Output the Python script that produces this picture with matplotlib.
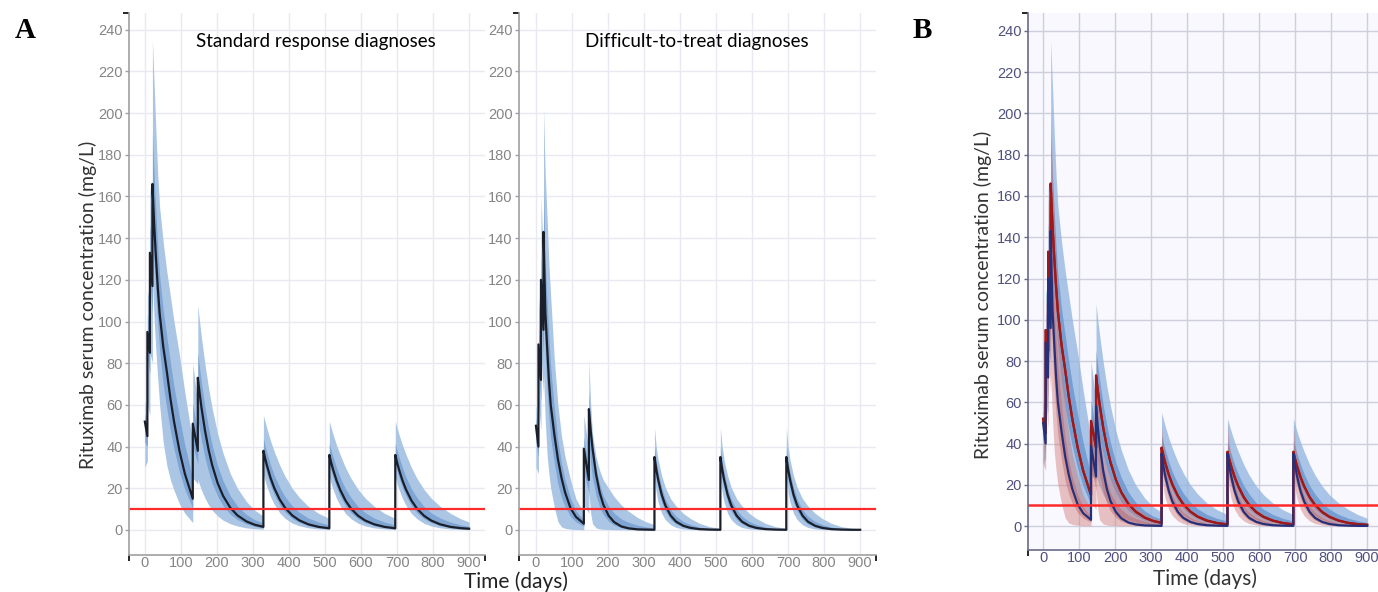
import matplotlib
matplotlib.use("Agg")
import matplotlib.pyplot as plt

# time grid (days); repeated days mark the instant jump at a dose
days = [0, 7, 7, 14, 14, 21,
        21, 26, 31, 36, 41, 51, 61, 71, 81, 96, 111, 133,
        133, 147,
        147, 152, 157, 167, 177, 187, 202, 217, 237, 257, 282, 305, 329,
        329, 334, 339, 349, 359, 374, 389, 409, 429, 454, 482, 512,
        512, 517, 522, 532, 542, 557, 572, 592, 612, 637, 665, 695,
        695, 700, 705, 715, 725, 740, 755, 775, 795, 820, 848, 875, 900]

# standard response diagnoses
std_median = [52, 45, 95, 85, 133, 117,
              166, 146, 130, 116, 104, 88, 76, 63, 52, 38, 27, 15,
              51, 38,
              73, 65.6, 58.9, 47.6, 38.4, 31.0, 22.5, 16.4, 10.7, 7.0, 4.1, 2.5, 1.5,
              38, 34.2, 30.8, 24.9, 20.2, 14.7, 10.7, 7.0, 4.6, 2.7, 1.5, 0.8,
              36, 32.4, 29.2, 23.7, 19.3, 14.1, 10.3, 6.8, 4.5, 2.7, 1.5, 0.8,
              36, 32.4, 29.2, 23.7, 19.3, 14.1, 10.3, 6.8, 4.5, 2.7, 1.5, 0.9, 0.6]
std_outer_hi = [62, 57, 115, 108, 165, 150,
                235, 213, 190, 170, 155, 138, 124, 112, 100, 84, 66, 42,
                80, 60,
                107.8, 99.8, 92.4, 79.3, 67.9, 58.2, 46.2, 36.9, 27.1, 20.0, 13.6, 9.5, 6.6,
                55.0, 51.7, 48.5, 42.7, 37.7, 31.2, 25.8, 20.0, 15.6, 11.3, 8.0, 5.5,
                52.1, 49.0, 46.0, 40.7, 36.1, 29.9, 24.8, 19.4, 15.2, 11.3, 8.0, 5.5,
                52.1, 49.0, 46.0, 40.7, 36.1, 29.9, 24.8, 19.4, 15.2, 11.3, 8.0, 5.5, 3.8]
std_outer_lo = [30, 33, 60, 55, 85, 80,
                120, 100, 85, 72, 60, 42, 31, 24, 19, 12.5, 8, 3.5,
                25, 22,
                24.3, 21.6, 19.2, 15.2, 12.0, 9.5, 6.7, 4.7, 3.0, 1.9, 1.0, 0.6, 0.35,
                26.8, 23.5, 20.6, 15.9, 12.3, 8.3, 5.6, 3.3, 2.0, 1.0, 0.5, 0.23,
                25.4, 22.3, 19.6, 15.1, 11.7, 7.9, 5.4, 3.2, 1.9, 1.0, 0.5, 0.23,
                25.4, 22.3, 19.6, 15.1, 11.7, 7.9, 5.4, 3.2, 1.9, 1.0, 0.5, 0.26, 0.15]
std_inner_hi = [56, 50, 104, 95, 147, 130,
                190, 169.5, 151, 135, 122, 105.5, 92.8, 80.2, 68.8, 54.1, 40.7, 24.5,
                61, 45.7,
                85.2, 77.5, 70.6, 58.7, 48.7, 40.5, 30.8, 23.6, 16.4, 11.5, 7.4, 4.9, 3.3,
                44.0, 40.3, 37.0, 31.1, 26.3, 20.5, 16.0, 11.6, 8.4, 5.7, 3.8, 2.4,
                41.7, 38.1, 35.2, 29.8, 25.2, 19.7, 15.6, 11.2, 8.2, 5.7, 3.8, 2.4,
                41.7, 38.1, 35.2, 29.8, 25.2, 19.7, 15.6, 11.2, 8.2, 5.7, 3.8, 2.5, 1.7]
std_inner_lo = [42, 40, 82, 75, 118, 104,
                147.6, 127.6, 112, 98.4, 86.4, 69.6, 58, 47.4, 38.8, 27.8, 19.4, 10.4,
                40.6, 31.6,
                53.5, 48.0, 43.0, 34.6, 27.8, 22.4, 16.2, 11.7, 7.6, 5.0, 2.9, 1.7, 1.0,
                33.5, 29.9, 26.7, 21.3, 17.0, 12.1, 8.7, 5.5, 3.6, 2.0, 1.1, 0.57,
                31.8, 28.4, 25.4, 20.3, 16.3, 11.6, 8.3, 5.4, 3.5, 2.0, 1.1, 0.57,
                31.8, 28.4, 25.4, 20.3, 16.3, 11.6, 8.3, 5.4, 3.5, 2.0, 1.1, 0.65, 0.42]

# difficult-to-treat diagnoses
dtt_median = [50, 40, 89, 72, 120, 96,
              143, 105, 88, 72, 60, 46, 34, 25, 18, 10.5, 6.3, 3,
              39, 24,
              58, 47.7, 39.3, 26.6, 18.0, 12.2, 6.8, 3.8, 1.7, 0.8, 0.3, 0.2, 0.1,
              35, 29.2, 24.4, 17.0, 11.9, 6.9, 4.0, 2.0, 1.0, 0.4, 0.2, 0.1,
              35, 29.2, 24.4, 17.0, 11.9, 6.9, 4.0, 2.0, 1.0, 0.4, 0.2, 0.1,
              35, 29.2, 24.4, 17.0, 11.9, 6.9, 4.0, 2.0, 1.0, 0.4, 0.2, 0.1, 0.1]
dtt_outer_hi = [60, 52, 112, 95, 160, 130,
                202, 170, 150, 128, 112, 82, 60, 45, 35, 24, 15, 8,
                55, 38,
                82, 60, 46, 35, 28.5, 24, 20, 16, 12, 9, 6, 4, 2.5,
                49, 40, 34, 26, 20.5, 15, 11.5, 8, 5.5, 3.2, 1.6, 0.8,
                49, 40, 34, 26, 20.5, 15, 11.5, 8, 5.5, 3.2, 1.6, 0.8,
                49, 40, 34, 26, 20.5, 15, 11.5, 8, 5.5, 3.2, 1.6, 0.9, 0.5]
dtt_outer_lo = [30, 27, 60, 48, 85, 65,
                75, 52, 36, 27, 20, 11, 4, 1.5, 0.8, 0.4, 0.2, 0.1,
                12, 8,
                18, 8, 3, 1, 0.5, 0.3, 0.2, 0.1, 0.1, 0, 0, 0, 0,
                25, 18, 13.5, 8, 5, 2.5, 1.2, 0.5, 0.2, 0.1, 0.05, 0.02,
                25, 18, 13.5, 8, 5, 2.5, 1.2, 0.5, 0.2, 0.1, 0.05, 0.02,
                25, 18, 13.5, 8, 5, 2.5, 1.2, 0.5, 0.2, 0.1, 0.05, 0.02, 0.01]
dtt_inner_hi = [54, 44, 97, 80, 134, 108,
                163.7, 127.8, 109.7, 91.6, 78.2, 58.6, 43.1, 32, 24, 15.2, 9.3, 4.75,
                44.6, 28.9,
                66.4, 52.0, 41.6, 29.5, 21.7, 16.3, 11.4, 8.1, 5.3, 3.7, 2.3, 1.5, 0.9,
                39.9, 33.0, 27.8, 20.2, 14.9, 9.7, 6.6, 4.1, 2.6, 1.4, 0.7, 0.35,
                39.9, 33.0, 27.8, 20.2, 14.9, 9.7, 6.6, 4.1, 2.6, 1.4, 0.7, 0.35,
                39.9, 33.0, 27.8, 20.2, 14.9, 9.7, 6.6, 4.1, 2.6, 1.4, 0.7, 0.35, 0.25]
dtt_inner_lo = [42, 35, 78, 62, 106, 84,
                115.8, 83.8, 67.2, 54, 44, 32, 22, 15.6, 11.1, 6.5, 3.9, 1.8,
                28.2, 17.6,
                42, 31.8, 24.8, 16.4, 11, 7.4, 4.2, 2.3, 1.1, 0.5, 0.2, 0.1, 0.06,
                31, 24.7, 20.0, 13.4, 9.1, 5.1, 2.9, 1.4, 0.7, 0.28, 0.14, 0.07,
                31, 24.7, 20.0, 13.4, 9.1, 5.1, 2.9, 1.4, 0.7, 0.28, 0.14, 0.07,
                31, 24.7, 20.0, 13.4, 9.1, 5.1, 2.9, 1.4, 0.7, 0.28, 0.14, 0.07, 0.06]

threshold = 10
x_ticks = list(range(0, 1000, 100))
y_ticks = list(range(0, 260, 20))

W, H = 1378, 592
fig = plt.figure(figsize=(W / 100, H / 100), dpi=100)
plt.rcParams['font.family'] = ['Liberation Sans', 'DejaVu Sans']


def px_axes(x0, y0, x1, y1):
    return fig.add_axes([x0 / W, 1 - y1 / H, (x1 - x0) / W, (y1 - y0) / H])


def ftext(x, y, s, **kw):
    # pixel position, y measured from the top
    fig.text(x / W, 1 - y / H, s, **kw)


def style(ax, xlim, ylim, bg, grid_c, spine_c, tick_c):
    ax.set_facecolor(bg)
    ax.set_xlim(*xlim)
    ax.set_ylim(*ylim)
    ax.set_xticks(x_ticks)
    ax.set_yticks(y_ticks)
    ax.set_xticks([xlim[0], xlim[1]], minor=True)
    ax.set_yticks([ylim[1]], minor=True)
    ax.grid(True, which='major', color=grid_c, lw=1.0)
    ax.set_axisbelow(True)
    for s in ['top', 'right']:
        ax.spines[s].set_visible(False)
    for s in ['left', 'bottom']:
        ax.spines[s].set_color(spine_c)
        ax.spines[s].set_linewidth(1.2)
    ax.tick_params(axis='both', colors=spine_c, labelcolor=tick_c, labelsize=10.5)
    ax.tick_params(axis='y', which='major', length=3, width=1, pad=1.5)
    ax.tick_params(axis='x', which='major', length=0, pad=1)
    ax.tick_params(which='minor', length=4, width=1.2)


def draw_group(ax, med, ohi, olo, ihi, ilo, outer_c, inner_c, line_c, alpha=1.0, lw=1.6):
    ax.fill_between(days, olo, ohi, color=outer_c, lw=0, alpha=alpha)
    ax.fill_between(days, ilo, ihi, color=inner_c, lw=0, alpha=alpha)
    ax.plot(days, med, color=line_c, lw=lw)


# ---- panel A, left
ax1 = px_axes(129, 13, 485, 555)
style(ax1, (-44, 944), (-12, 248), 'white', '#e9e9f1', '#a0a0a0', '#858585')
draw_group(ax1, std_median, std_outer_hi, std_outer_lo, std_inner_hi, std_inner_lo,
           '#abc6e4', '#7ea5d3', '#1b1f2a')
ax1.axhline(threshold, color='#ff2a2a', lw=1.6)

# ---- panel A, right
ax2 = px_axes(519, 13, 876, 555)
style(ax2, (-47, 944), (-12, 248), 'white', '#e9e9f1', '#a0a0a0', '#858585')
draw_group(ax2, dtt_median, dtt_outer_hi, dtt_outer_lo, dtt_inner_hi, dtt_inner_lo,
           '#abc6e4', '#7ea5d3', '#1b1f2a')
ax2.axhline(threshold, color='#ff2a2a', lw=1.6)

# ---- panel B
ax3 = px_axes(1028, 13, 1383, 550)
style(ax3, (-42, 944), (-11.6, 248.7), '#f8f8fe', '#cfcfdb', '#6a6a8a', '#505080')
draw_group(ax3, std_median, std_outer_hi, std_outer_lo, std_inner_hi, std_inner_lo,
           '#8fb3de', '#6592cc', '#9b1b1b', alpha=0.75)
ax3.fill_between(days, dtt_outer_lo, dtt_outer_hi, color='#d07a7a', lw=0, alpha=0.45)
ax3.fill_between(days, dtt_inner_lo, dtt_inner_hi, color='#b85858', lw=0, alpha=0.4)
ax3.plot(days, std_median, color='#a01818', lw=1.6)
ax3.plot(days, dtt_median, color='#25307a', lw=1.6)
ax3.axhline(threshold, color='#ff2a2a', lw=1.8)

ftext(316, 42, 'Standard response diagnoses', fontsize=13.5, family='Lato',
      ha='center', va='center')
ftext(697, 42, 'Difficult-to-treat diagnoses', fontsize=13.5, family='Lato',
      ha='center', va='center')
ftext(88, 305, 'Rituximab serum concentration (mg/L)', fontsize=14, family='Lato',
      rotation=90, ha='center', va='center', color='#333333')
ftext(983, 295, 'Rituximab serum concentration (mg/L)', fontsize=14, family='Lato',
      rotation=90, ha='center', va='center', color='#333333')
ftext(516, 582, 'Time (days)', fontsize=15, family='Lato', ha='center', va='center',
      color='#222222')
ftext(1205, 579, 'Time (days)', fontsize=15, family='Lato', ha='center', va='center',
      color='#333333')
ftext(25, 30, 'A', fontsize=21, family='Liberation Serif', weight='bold',
      ha='center', va='center')
ftext(922, 30, 'B', fontsize=21, family='Liberation Serif', weight='bold',
      ha='center', va='center')

fig.savefig('out.png', dpi=100)
